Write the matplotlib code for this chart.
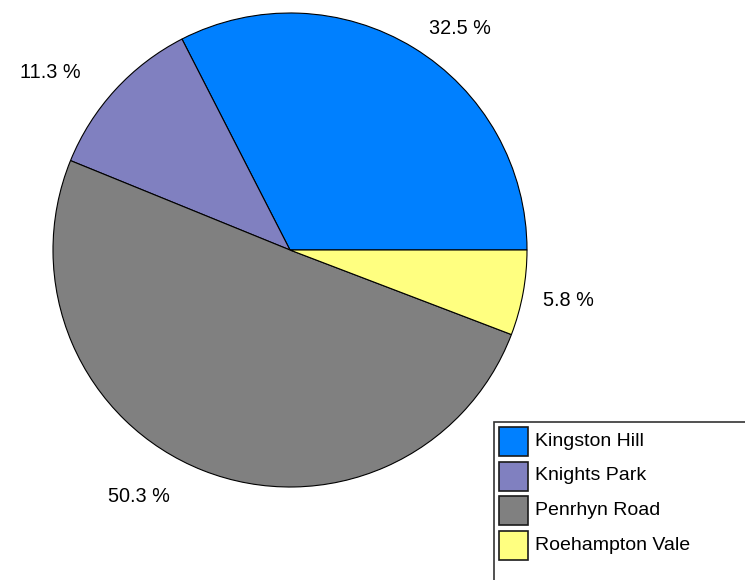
import matplotlib
matplotlib.use('Agg')
import matplotlib.pyplot as plt
from matplotlib.patches import Rectangle

# chart data
campuses = ['Kingston Hill', 'Knights Park', 'Penrhyn Road', 'Roehampton Vale']
shares = [32.5, 11.3, 50.3, 5.8]
colors = ['#0080FF', '#8080C0', '#808080', '#FFFF80']
# label positions (pixels, y measured from top)
label_xy = [(460, 28), (50, 72), (139, 497), (568, 301)]

W, H = 745, 580
plt.rcParams['font.family'] = ['Liberation Sans', 'DejaVu Sans']

fig = plt.figure(figsize=(W / 100, H / 100), dpi=100)
ax = fig.add_axes([0, 0, 1, 1])
ax.set_xlim(0, W)
ax.set_ylim(0, H)
ax.set_aspect('equal')
ax.axis('off')

# pie, counter-clockwise from 3 o'clock
ax.pie(shares, colors=colors, startangle=0, counterclock=True,
       center=(290, H - 250), radius=237, normalize=True,
       wedgeprops=dict(edgecolor='black', linewidth=0.8))
ax.set_xlim(0, W)
ax.set_ylim(0, H)

for val, (x, y) in zip(shares, label_xy):
    ax.text(x, H - y, f'{val} %', ha='center', va='center', fontsize=14.3, color='black')

# legend box, running off the right and bottom edges
ax.add_patch(Rectangle((494, -10), 270, H - 422 + 10, facecolor='white',
                       edgecolor='#333333', linewidth=1.2, clip_on=False))
for i, (name, c) in enumerate(zip(campuses, colors)):
    top = 427 + i * 34.5
    ax.add_patch(Rectangle((499, H - top - 29), 29, 29, facecolor=c,
                           edgecolor='#1a1a1a', linewidth=1.2))
    ax.text(535, H - top - 14.5, name, ha='left', va='center', fontsize=14.0, color='black')

fig.savefig('out.png', dpi=100)
